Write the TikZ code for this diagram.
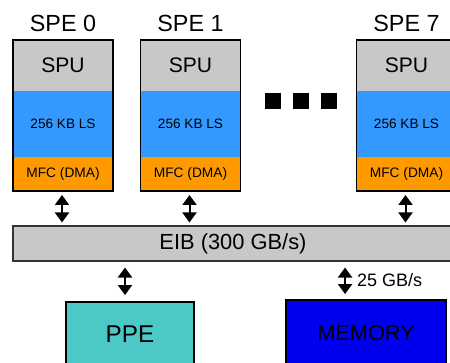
\documentclass[tikz,border=0pt]{standalone}
\usepackage{fontspec}
\setmainfont{Liberation Sans}
\usetikzlibrary{positioning,arrows.meta}
\definecolor{spugray}{HTML}{C8C8C8}
\definecolor{lsblue}{HTML}{3399FF}
\definecolor{mfcorange}{HTML}{FF9900}
\definecolor{ppeteal}{HTML}{4CC9C6}
\definecolor{memblue}{HTML}{0000EE}
\begin{document}
\begin{tikzpicture}[x=0.75pt, y=-0.75pt,
    spupart/.style={fill=spugray, minimum width=75pt, minimum height=38.25pt,
      inner sep=0pt, outer sep=0pt, font=\fontsize{15.8}{18}\selectfont},
    lspart/.style={fill=lsblue, minimum width=75pt, minimum height=49.5pt,
      inner sep=0pt, outer sep=0pt, font=\fontsize{10.2}{12}\selectfont},
    mfcpart/.style={fill=mfcorange, minimum width=75pt, minimum height=25.5pt,
      inner sep=0pt, outer sep=0pt, font=\fontsize{10.3}{12}\selectfont},
    spelabel/.style={font=\fontsize{17.5}{20}\selectfont, inner sep=0pt},
    unitbox/.style={draw=black, line width=1.4pt, inner sep=0pt},
    dblarrow/.style={{Triangle[width=10.5pt,length=7.5pt]}-{Triangle[width=10.5pt,length=7.5pt]},
      line width=1.5pt}]
  % Page size, the SPE 7 block and the bus run off the right edge
  \clip (0,0) rectangle (450,363);
  % Element interconnect bus
  \node[fill=spugray, draw=black!80, line width=0.8pt, minimum width=330pt,
    minimum height=26.25pt, inner sep=0pt, font=\fontsize{16.4}{18}\selectfont]
    (eib) at (233,243.5) {EIB (300 GB/s)};
  % The SPE stacks
  \foreach \n/\cx in {0/63, 1/190.5, 7/406.5} {
    \node[spupart] (spu\n) at (\cx,65.5) {SPU};
    \node[lspart, below=0pt of spu\n] (ls\n) {256 KB LS};
    \node[mfcpart, below=0pt of ls\n] (mfc\n) {MFC (DMA)};
    \draw[black, line width=0.8pt] (spu\n.north west) rectangle (mfc\n.south east);
    \node[spelabel] (spe\n) at (\cx,23.5) {SPE \n};
    \draw[dblarrow, shorten <=3pt, shorten >=2.25pt] ([xshift=-0.75pt]mfc\n.south)
      -- ([xshift=-0.75pt]mfc\n.south |- eib.north);
  }
  % Dots between SPE 1 and SPE 7
  \foreach \i/\dx in {1/273, 2/301, 3/329} {
    \node[fill=black, minimum size=12pt, inner sep=0pt] (dot\i) at (\dx,101) {};
  }
  % PPE and main memory
  \node[unitbox, fill=ppeteal, minimum width=96pt, minimum height=48pt,
    font=\fontsize{18.2}{20}\selectfont] (ppe) at (130,334) {PPE};
  \node[unitbox, fill=memblue, minimum width=120pt, minimum height=49.5pt,
    font=\fontsize{16.3}{18}\selectfont] (mem) at (366,333) {MEMORY};
  \draw[dblarrow, shorten <=4.5pt, shorten >=4.5pt] ([xshift=-3.75pt]ppe.north |- eib.south)
    -- ([xshift=-3.75pt]ppe.north);
  \coordinate (memtop) at ([xshift=45pt]mem.north west);
  \draw[dblarrow, shorten <=4.5pt, shorten >=3.75pt] (memtop |- eib.south) -- (memtop)
    node[midway, right=5pt, font=\fontsize{13.5}{16}\selectfont] (memrate) {25 GB/s};
\end{tikzpicture}
\end{document}
